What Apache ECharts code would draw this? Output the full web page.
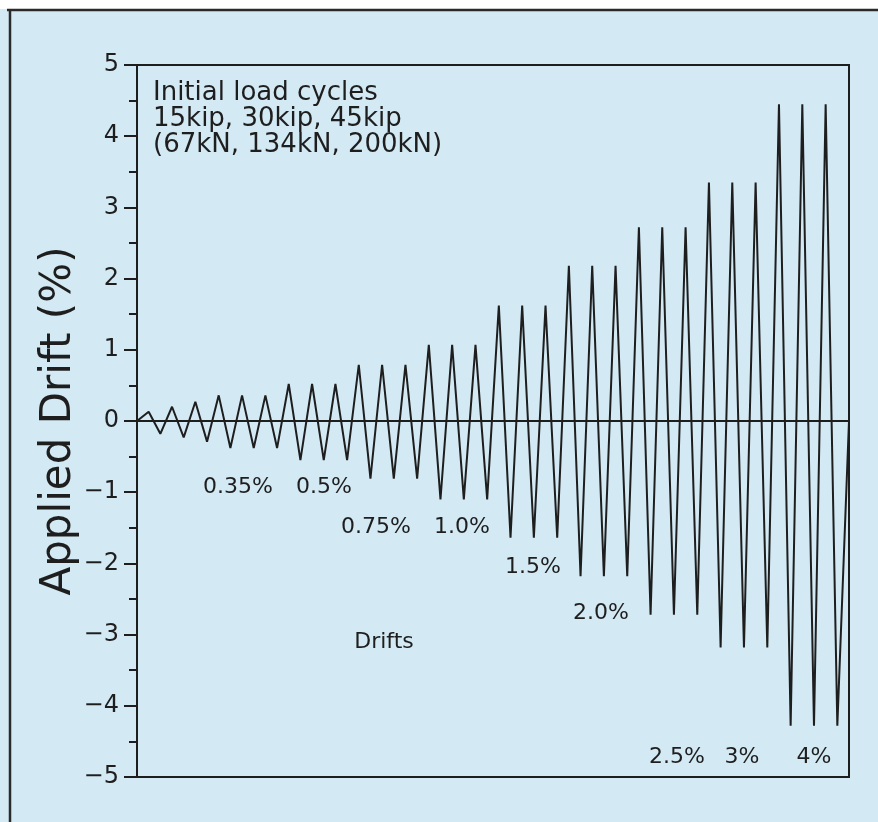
<!DOCTYPE html>
<html>
<head>
<meta charset="utf-8">
<script src="https://cdn.jsdelivr.net/npm/echarts@6/dist/echarts.min.js"></script>
<style>
html,body{margin:0;padding:0;background:#d3e9f4;}
#c{width:878px;height:822px;}
</style>
</head>
<body>
<div id="c"></div>
<script>
// Applied drift (%) at each successive half-cycle peak (step index = position along test)
const drift = [
  0,
  0.13, -0.18, 0.20, -0.23, 0.27, -0.29,          // initial load cycles
  0.36, -0.38, 0.36, -0.38, 0.36, -0.38,          // 0.35%
  0.52, -0.55, 0.52, -0.55, 0.52, -0.55,          // 0.5%
  0.79, -0.81, 0.79, -0.81, 0.79, -0.81,          // 0.75%
  1.07, -1.10, 1.07, -1.10, 1.07, -1.10,          // 1.0%
  1.62, -1.64, 1.62, -1.64, 1.62, -1.64,          // 1.5%
  2.18, -2.18, 2.18, -2.18, 2.18, -2.18,          // 2.0%
  2.72, -2.72, 2.72, -2.72, 2.72, -2.72,          // 2.5%
  3.35, -3.18, 3.35, -3.18, 3.35, -3.18,          // 3%
  4.45, -4.28, 4.45, -4.28, 4.45, -4.28,          // 4%
  0
];
const yTicks = [-5, -4, -3, -2, -1, 0, 1, 2, 3, 4, 5];
const noteLines = ['Initial load cycles', '15kip, 30kip, 45kip', '(67kN, 134kN, 200kN)'];
const driftLabels = ['0.35%', '0.5%', '0.75%', '1.0%', '1.5%', '2.0%', '2.5%', '3%', '4%'];
const yTitle = 'Applied Drift (%)';
const driftsTitle = 'Drifts';

const INK = '#1e1e1e';
const FONT = '"DejaVu Sans", "Liberation Sans", sans-serif';

const chart = echarts.init(document.getElementById('c'), null, {renderer: 'canvas'});

const labelPos = [
  [238, 487], [324, 487], [376, 527], [462, 527], [533, 567],
  [601, 613], [677, 757], [742, 757], [814, 757]
];

const graphics = [
  {type: 'rect', shape: {x: 0, y: 0, width: 878, height: 9}, style: {fill: '#ffffff'}, silent: true},
  {type: 'line', shape: {x1: 7, y1: 10, x2: 878, y2: 10}, style: {stroke: '#2a2a2a', lineWidth: 2.5}, silent: true},
  {type: 'line', shape: {x1: 10, y1: 10, x2: 10, y2: 822}, style: {stroke: '#2a2a2a', lineWidth: 2.5}, silent: true},
  {type: 'text', left: 153, top: 80, silent: true,
   style: {text: noteLines.join('\n'), font: '26px ' + FONT, fill: INK, lineHeight: 26}},
  {type: 'text', x: 384, y: 642, silent: true,
   style: {text: driftsTitle, font: '22px ' + FONT, fill: INK, align: 'center', verticalAlign: 'middle'}}
];
driftLabels.forEach((t, i) => {
  graphics.push({type: 'text', x: labelPos[i][0], y: labelPos[i][1], silent: true,
    style: {text: t, font: '22px ' + FONT, fill: INK, align: 'center', verticalAlign: 'middle'}});
});

chart.setOption({
  animation: false,
  backgroundColor: 'transparent',
  grid: {left: 137, right: 29, top: 65, bottom: 45, show: true,
         borderColor: INK, borderWidth: 2, backgroundColor: 'transparent'},
  xAxis: {
    type: 'value', min: 0, max: drift.length - 1,
    axisLine: {show: true, onZero: true, lineStyle: {color: INK, width: 2}},
    axisTick: {show: false}, axisLabel: {show: false}, splitLine: {show: false}
  },
  yAxis: {
    type: 'value', min: yTicks[0], max: yTicks[yTicks.length - 1], interval: 1,
    name: yTitle, nameLocation: 'middle', nameGap: 57, nameRotate: 90,
    nameMoveOverlap: false,
    nameTextStyle: {fontSize: 42, color: INK, fontFamily: FONT},
    axisLine: {show: true, onZero: false, lineStyle: {color: INK, width: 2}},
    axisTick: {show: true, length: 13, lineStyle: {color: INK, width: 2}},
    minorTick: {show: true, splitNumber: 2, length: 8, lineStyle: {color: INK, width: 2}},
    axisLabel: {fontSize: 24, color: INK, fontFamily: FONT, margin: 18,
      formatter: v => v < 0 ? '\u2212' + (-v) : String(v)},
    splitLine: {show: false}
  },
  graphic: graphics,
  series: [{
    type: 'line',
    data: drift.map((v, i) => [i, v]),
    symbol: 'none',
    lineStyle: {color: INK, width: 2},
    clip: true
  }]
});
</script>
</body>
</html>
